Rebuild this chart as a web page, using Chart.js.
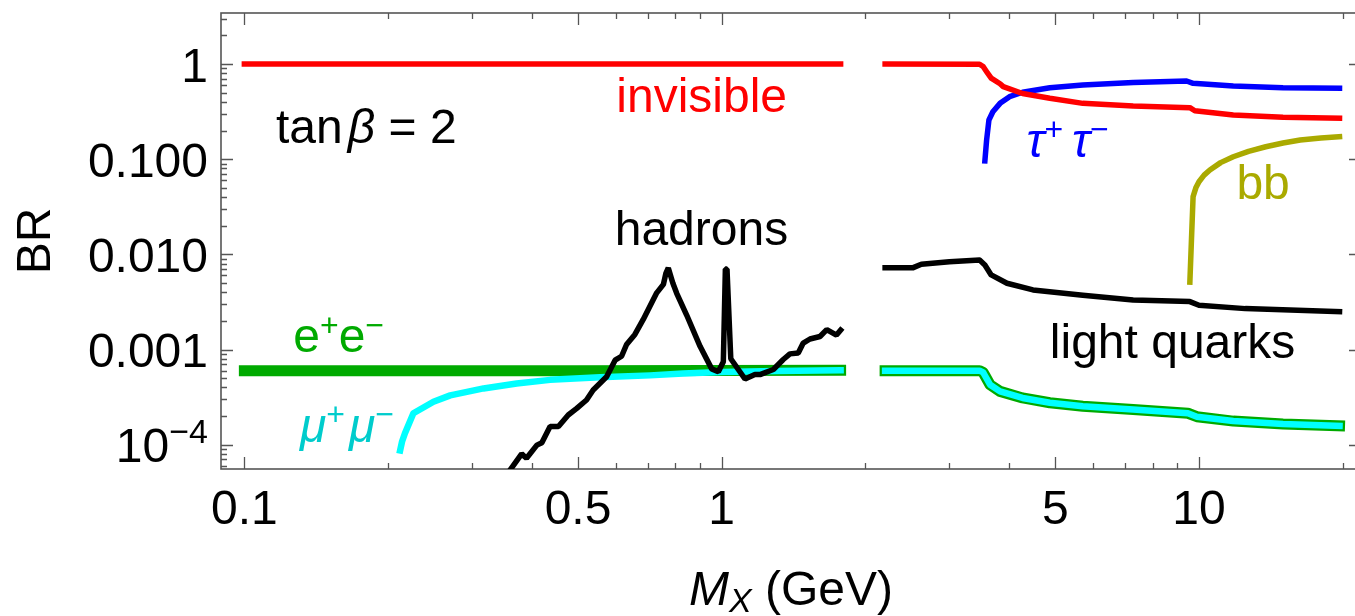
<!DOCTYPE html>
<html>
<head>
<meta charset="utf-8">
<script src="https://cdn.jsdelivr.net/npm/chart.js@4.4.1/dist/chart.umd.min.js"></script>
<style>
  html, body { margin: 0; padding: 0; background: #fff; overflow: hidden; }
  #wrap { width: 1355px; height: 616px; overflow: hidden; }
</style>
</head>
<body>
<div id="wrap"><canvas id="brChart" width="1380" height="616"></canvas></div>
<script>
// [M_X (GeV), BR]; null marks the gap around 2 GeV
const invisible = [
  [0.1, 0.999], [1.775, 0.999], [2.0, null],
  [2.2, 0.999], [3.47, 0.995], [3.53, 0.94], [3.59, 0.83], [3.67, 0.71], [3.83, 0.62],
  [3.89, 0.578], [4.27, 0.49], [4.87, 0.436], [5.71, 0.386], [7.28, 0.362], [9.57, 0.348],
  [9.8, 0.323], [11.8, 0.291], [15, 0.275], [19.7, 0.269]
];
const tauTau = [
  [3.56, 0.096], [3.59, 0.159], [3.63, 0.258], [3.70, 0.315], [3.83, 0.386], [4.01, 0.454],
  [4.27, 0.505], [4.87, 0.564], [5.71, 0.602], [7.28, 0.641], [9.42, 0.663], [9.72, 0.627],
  [11.8, 0.587], [15, 0.564], [19.7, 0.556]
];
const bbbar = [
  [9.57, 0.0051], [9.72, 0.0404], [9.85, 0.05], [10.0, 0.058], [10.25, 0.068], [10.54, 0.077],
  [11.1, 0.092], [11.8, 0.106], [12.7, 0.121], [13.8, 0.135], [15, 0.148], [16.3, 0.159],
  [18, 0.167], [19.7, 0.172]
];
const lightQuarks = [
  [2.2, 0.00725], [2.52, 0.00725], [2.62, 0.00787], [3.0, 0.00838], [3.47, 0.00873],
  [3.56, 0.00774], [3.67, 0.00608], [3.96, 0.00497], [4.49, 0.00423], [5.71, 0.00372],
  [7.28, 0.00332], [9.57, 0.00319], [10.0, 0.00292], [12.5, 0.00269], [19.7, 0.0025]
];
const hadrons = [
  [0.352, 4.6e-5], [0.381, 8.0e-5], [0.390, 7.2e-5], [0.410, 9.9e-5], [0.420, 1.05e-4],
  [0.437, 1.55e-4], [0.455, 1.55e-4], [0.477, 2.05e-4], [0.497, 2.41e-4], [0.521, 2.95e-4],
  [0.538, 3.76e-4], [0.574, 5.18e-4], [0.598, 7.72e-4], [0.617, 8.5e-4], [0.632, 1.13e-3],
  [0.658, 1.44e-3], [0.685, 2.07e-3], [0.731, 3.94e-3], [0.755, 4.84e-3], [0.764, 6.3e-3],
  [0.773, 7.2e-3], [0.79, 5.0e-3], [0.805, 3.9e-3], [0.845, 2.29e-3], [0.901, 1.08e-3],
  [0.953, 6.26e-4], [0.984, 5.85e-4], [1.008, 7.45e-4], [1.018, 7.0e-3], [1.026, 7.0e-3],
  [1.045, 8.0e-4], [1.119, 4.9e-4], [1.174, 5.45e-4], [1.203, 5.45e-4], [1.283, 6.16e-4],
  [1.346, 7.85e-4], [1.39, 9.0e-4], [1.447, 9.2e-4], [1.482, 1.17e-3], [1.531, 1.29e-3],
  [1.607, 1.37e-3], [1.66, 1.62e-3], [1.74, 1.42e-3], [1.775, 1.6e-3]
];
// below 2 GeV e+e- and mu+mu- differ, above it they lie on one curve
const eeLow = [[0.1, 6.0e-4], [0.5, 6.0e-4], [1.775, 6.05e-4]];
const muMuLow = [
  [0.212, 8.7e-5], [0.214, 1.08e-4], [0.217, 1.32e-4], [0.226, 2.14e-4], [0.249, 2.83e-4],
  [0.27, 3.3e-4], [0.317, 3.9e-4], [0.372, 4.4e-4], [0.437, 4.8e-4], [0.556, 5.1e-4],
  [0.708, 5.35e-4], [0.83, 5.6e-4], [1.0, 5.8e-4], [1.3, 5.95e-4], [1.775, 6.05e-4]
];
const leptonsHigh = [
  [2.2, 6.0e-4], [3.47, 6.0e-4], [3.53, 5.75e-4], [3.56, 5.33e-4], [3.65, 4.27e-4],
  [3.83, 3.63e-4], [4.27, 3.10e-4], [4.87, 2.76e-4], [5.71, 2.53e-4], [7.28, 2.34e-4],
  [9.48, 2.14e-4], [9.9, 1.97e-4], [11.8, 1.77e-4], [15, 1.65e-4], [19.7, 1.58e-4]
];

const xMajorTicks = [0.1, 0.5, 1, 5, 10];
const xTickLabels = ['0.1', '0.5', '1', '5', '10'];
const xMinorTicks = [0.2, 0.3, 0.4, 0.6, 0.7, 0.8, 0.9, 2, 3, 4, 6, 7, 8, 9, 20];
const yMajorTicks = [1e-4, 1e-3, 1e-2, 0.1, 1];
const yTickLabels = ['10^\u22124', '0.001', '0.010', '0.100', '1'];

const FONT = "'Liberation Sans', Arial, sans-serif";
const gap = [[2.0, null]];
const pts = arr => arr.map(([x, y]) => ({ x, y }));

const line = (data, color, width, extra) => Object.assign({
  data: pts(data),
  borderColor: color,
  borderWidth: width,
  borderCapStyle: 'square',
  borderJoinStyle: 'round',
  pointRadius: 0,
  tension: 0,
  fill: false,
  spanGaps: false,
  clip: 0
}, extra || {});

// rich text: parts drawn one after another on a common baseline
function drawParts(ctx, parts, x, y, align) {
  let total = 0;
  parts.forEach(p => {
    ctx.font = (p.italic ? 'italic ' : '') + (p.size || 48) + 'px ' + FONT;
    p.w = ctx.measureText(p.t).width + (p.gap || 0);
    total += p.w;
  });
  let cx = align === 'center' ? x - total / 2 : align === 'right' ? x - total : x;
  parts.forEach(p => {
    ctx.font = (p.italic ? 'italic ' : '') + (p.size || 48) + 'px ' + FONT;
    ctx.fillText(p.t, cx, y + (p.dy || 0));
    cx += p.w;
  });
}

const curveLabels = [
  { x: 0.908, y: 0.313, color: '#ff0000', align: 'center', parts: [{ t: 'invisible' }] },
  { x: 0.907, y: 0.01256, color: '#000', align: 'center', parts: [{ t: 'hadrons' }] },
  { x: 4.87, y: 8.1e-4, color: '#000', parts: [{ t: 'light quarks' }] },
  { x: 11.98, y: 0.0379, color: '#aaaa00', parts: [{ t: 'bb' }] },
  { x: 4.35, y: 0.106, color: '#0000ff', parts: [
    { t: '\u03c4', italic: true }, { t: '+', size: 32, dy: -17, gap: 9 },
    { t: '\u03c4', italic: true }, { t: '\u2212', size: 32, dy: -17 }] },
  { x: 0.1266, y: 9.37e-4, color: '#00aa00', parts: [
    { t: 'e' }, { t: '+', size: 32, dy: -16 }, { t: 'e' }, { t: '\u2212', size: 32, dy: -16 }] },
  { x: 0.1308, y: 1.075e-4, color: '#00cccc', parts: [
    { t: '\u03bc', italic: true }, { t: '+', size: 32, dy: -17, gap: 4 },
    { t: '\u03bc', italic: true }, { t: '\u2212', size: 32, dy: -17 }] },
  { x: 0.1165, y: 0.147, color: '#000', parts: [
    { t: 'tan', gap: 5 }, { t: '\u03b2', italic: true }, { t: ' = 2' }] }
];

const frameTicks = {
  id: 'frameTicks',
  beforeDatasetsDraw(chart) {
    const { ctx, chartArea: a, scales: { x, y } } = chart;
    ctx.save();
    ctx.strokeStyle = '#555';
    ctx.lineWidth = 1.3;
    ctx.beginPath();
    const xt = (v, len) => {
      const px = Math.round(x.getPixelForValue(v)) + 0.5;
      ctx.moveTo(px, a.bottom); ctx.lineTo(px, a.bottom - len);
      ctx.moveTo(px, a.top); ctx.lineTo(px, a.top + len);
    };
    const yt = (v, len) => {
      const py = Math.round(y.getPixelForValue(v)) + 0.5;
      ctx.moveTo(a.left, py); ctx.lineTo(a.left + len, py);
      ctx.moveTo(a.right, py); ctx.lineTo(a.right - len, py);
    };
    xMajorTicks.forEach(v => xt(v, 12));
    xMinorTicks.forEach(v => xt(v, 6));
    yMajorTicks.forEach(v => yt(v, 12));
    for (let d = 1e-5; d < 10; d *= 10) {
      for (let k = 2; k <= 9; k++) {
        const v = k * d;
        if (v > y.min && v < y.max) yt(v, 6);
      }
    }
    ctx.stroke();
    ctx.lineWidth = 1.6;
    ctx.strokeRect(a.left, a.top, a.right - a.left, a.bottom - a.top);
    ctx.restore();
  },
  afterDatasetsDraw(chart) {
    const { ctx, chartArea: a, scales: { x, y } } = chart;
    ctx.save();
    ctx.textBaseline = 'alphabetic';
    ctx.textAlign = 'left';
    ctx.fillStyle = '#000';
    // tick labels
    xMajorTicks.forEach((v, i) => {
      drawParts(ctx, [{ t: xTickLabels[i] }], x.getPixelForValue(v), 524, 'center');
    });
    yMajorTicks.forEach((v, i) => {
      const py = y.getPixelForValue(v) + 17.5;
      const [base, sup] = yTickLabels[i].split('^');
      const parts = [{ t: base }];
      if (sup) parts.push({ t: sup, size: 34, dy: -19 });
      drawParts(ctx, parts, a.left - 13, py, 'right');
    });
    // axis titles
    const cxMid = (a.left + a.right) / 2;
    drawParts(ctx, [
      { t: 'M', italic: true }, { t: 'X', italic: true, size: 34, dy: 7 }, { t: ' (GeV)' }
    ], cxMid, 605, 'center');
    ctx.save();
    ctx.translate(50, (a.top + a.bottom) / 2);
    ctx.rotate(-Math.PI / 2);
    drawParts(ctx, [{ t: 'BR' }], 0, 0, 'center');
    ctx.restore();
    // curve labels
    curveLabels.forEach(l => {
      ctx.fillStyle = l.color;
      drawParts(ctx, l.parts, x.getPixelForValue(l.x), y.getPixelForValue(l.y), l.align || 'left');
    });
    ctx.restore();
  }
};

new Chart(document.getElementById('brChart'), {
  type: 'line',
  data: {
    datasets: [
      line(hadrons, '#000000', 5.5, { label: 'hadrons', borderJoinStyle: 'bevel' }),
      line(lightQuarks, '#000000', 5.5, { label: 'light quarks' }),
      line(muMuLow.concat(gap, leptonsHigh), '#00ffff', 6.5, { label: 'mu+mu-' }),
      line(eeLow.concat(gap, leptonsHigh), '#00aa00', 11, { label: 'e+e-' }),
      line(invisible, '#ff0000', 5.5, { label: 'invisible' }),
      line(tauTau, '#0000ff', 5.5, { label: 'tau+tau-' }),
      line(bbbar, '#aaaa00', 5.5, { label: 'bb' })
    ]
  },
  options: {
    responsive: false,
    animation: false,
    devicePixelRatio: 1,
    layout: { padding: { left: 221, top: 13, right: 19, bottom: 147 } },
    plugins: { legend: { display: false }, tooltip: { enabled: false } },
    scales: {
      x: { type: 'logarithmic', min: 0.08934, max: 21.85, display: false },
      y: { type: 'logarithmic', min: 5.554e-5, max: 3.435, display: false }
    }
  },
  plugins: [frameTicks]
});
</script>
</body>
</html>
